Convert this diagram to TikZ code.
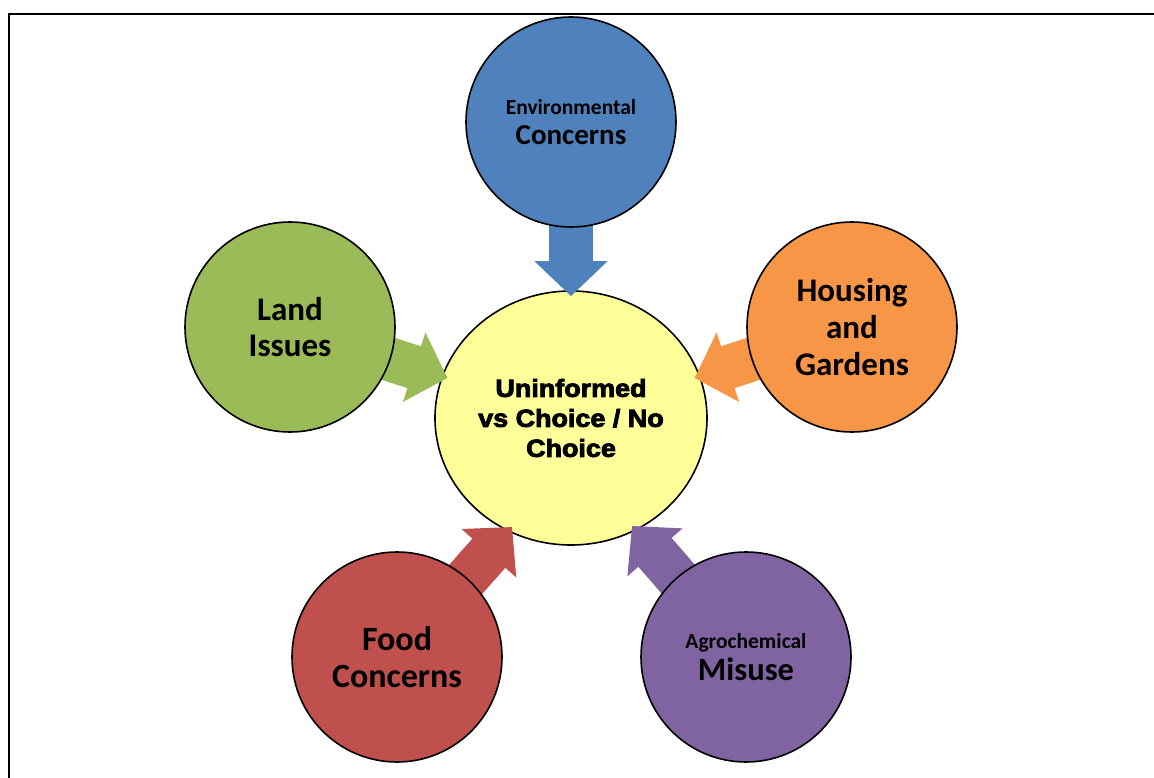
\documentclass[tikz,border=0pt]{standalone}
\usepackage{fontspec}
\setmainfont{Carlito}
\newfontfamily\heavyfont{Liberation Sans Bold}[FakeBold=3.5,FakeStretch=1.09]
\usetikzlibrary{arrows.meta,shapes.geometric}
\definecolor{envblue}{HTML}{4F81BD}
\definecolor{landgreen}{HTML}{9BBB59}
\definecolor{houseorange}{HTML}{F79646}
\definecolor{foodred}{HTML}{C0504D}
\definecolor{agropurple}{HTML}{8064A2}
\definecolor{coreyellow}{HTML}{FFFF99}
\def\bigsz{\fontsize{33}{36.7}\selectfont}
\def\smallsz{\fontsize{21.5}{30}\selectfont}
\pgfdeclarelayer{front}
\pgfsetlayers{main,front}

\begin{document}
\begin{tikzpicture}[x=1pt,y=1pt,
    bubble/.style={circle,draw,line width=1.6pt,minimum size=210pt,inner sep=0pt,align=center,font=\bfseries\bigsz},
    feed/.style={line width=44pt,-{Triangle[length=35pt,width=71pt]},shorten >=-6pt,shorten <=-12pt}]
\useasboundingbox (0,0) rectangle (1154,-778);
\draw[line width=2.5pt] (9,-778) -- (9,-14) -- (1154,-14);

       \node [ellipse,draw,fill=coreyellow,line width=1.6pt,minimum width=272pt,minimum height=254pt,inner sep=0pt,align=center,font=\heavyfont\fontsize{24.7}{30}\selectfont] at (571,-418) (core) {Uninformed\\vs Choice / No\\Choice};
%
\begin{pgfonlayer}{front}
       \node [bubble,fill=envblue,font=\bfseries\fontsize{29}{30}\selectfont] at (571,-122) (env) {{\smallsz Environmental}\\Concerns};
       \node [bubble,fill=landgreen] at (290,-327) (land) {Land\\Issues};
       \node [bubble,fill=houseorange] at (852,-327) (house) {Housing\\and\\Gardens};
       \node [bubble,fill=foodred,font=\bfseries\fontsize{34}{37.4}\selectfont] at (397,-657) (food) {Food\\Concerns};
       \node [bubble,fill=agropurple,font=\bfseries\fontsize{32.5}{32.6}\selectfont] at (746,-657) (agro) {{\smallsz Agrochemical}\\Misuse};
\end{pgfonlayer}
%
\draw[feed,envblue] (env) -- (core);
\draw[feed,landgreen] (land) -- (core);
\draw[feed,houseorange] (house) -- (core);
\draw[feed,foodred] (food) -- (core.241);
\draw[feed,agropurple] (agro) -- (core.-60);

\end{tikzpicture}
\end{document}
